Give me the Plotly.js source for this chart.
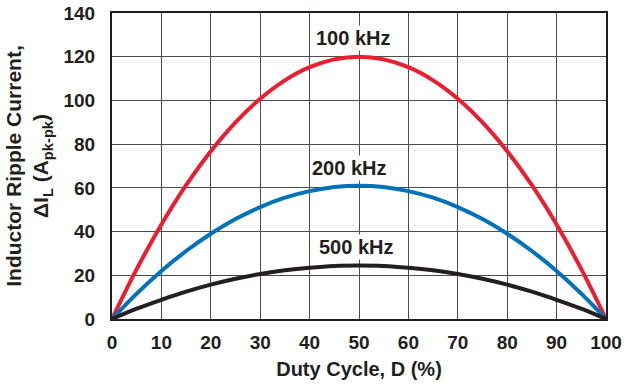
<!DOCTYPE html>
<html><head><meta charset="utf-8">
<script src="https://cdn.plot.ly/plotly-3.0.1.min.js"></script>
<style>html,body{margin:0;padding:0;background:#fff}#c{width:634px;height:390px}</style>
</head><body><div id="c"></div>
<script>
const duty = [0,5,10,15,20,25,30,35,40,45,50,55,60,65,70,75,80,85,90,95,100];
const ripple100k = [0,22.8,43.2,61.2,76.8,90,100.8,109.2,115.2,118.8,120,118.8,115.2,109.2,100.8,90,76.8,61.2,43.2,22.8,0];
const ripple200k = [0,11.6,22,31.1,39,45.7,51.2,55.5,58.5,60.4,61,60.4,58.5,55.5,51.2,45.7,39,31.1,22,11.6,0];
const ripple500k = [0,4.7,8.8,12.5,15.7,18.4,20.6,22.3,23.5,24.3,24.5,24.3,23.5,22.3,20.6,18.4,15.7,12.5,8.8,4.7,0];
const seriesNames = ['100 kHz','200 kHz','500 kHz'];
const labelX = [48.8, 48.0, 49.4];
const labelY = [128.5, 69, 33];
const xTicks = [0,10,20,30,40,50,60,70,80,90,100];
const yTicks = [0,20,40,60,80,100,120,140];

const colors = ['#ED1C2E','#0072BC','#231F20'];
const series = [ripple100k, ripple200k, ripple500k];
const font = 'Liberation Sans, Arial, sans-serif';

const traces = series.map((s,i)=>({
  x: duty, y: s, type:'scatter', mode:'lines', name: seriesNames[i],
  line:{color:colors[i], width:4, shape:'spline'}, hoverinfo:'skip'
}));

const layout = {
  width:634, height:390,
  margin:{l:112, r:28, t:13, b:71},
  paper_bgcolor:'#fff', plot_bgcolor:'#fff',
  showlegend:false,
  font:{family:font, color:'#231F20'},
  xaxis:{
    range:[0,100], tickvals:xTicks, ticks:'', ticklabelstandoff:5,
    tickfont:{size:19, weight:'bold', family:font, color:'#231F20'},
    showgrid:true, gridcolor:'#4d4d4d', gridwidth:1,
    showline:true, linecolor:'#231F20', linewidth:2, mirror:true, zeroline:false,
    title:{text:'Duty Cycle, D (%)', font:{size:20, weight:'bold', family:font, color:'#231F20'}, standoff:10}
  },
  yaxis:{
    range:[0,140], tickvals:yTicks, ticks:'', ticklabelstandoff:11,
    tickfont:{size:19, weight:'bold', family:font, color:'#231F20'},
    showgrid:true, gridcolor:'#4d4d4d', gridwidth:1,
    showline:true, linecolor:'#231F20', linewidth:2, mirror:true, zeroline:false,
    title:{text:'Inductor Ripple Current,<br>ΔI<sub>L</sub> (A<sub>pk-pk</sub>)', font:{size:21, weight:'bold', family:font, color:'#231F20'}, standoff:9}
  },
  annotations: seriesNames.map((n,i)=>({
    x:labelX[i], y:labelY[i], xref:'x', yref:'y', text:n, showarrow:false,
    font:{size:20, weight:'bold', family:font, color:'#231F20'},
    bgcolor:'#fff', borderpad:1, xanchor:'center', yanchor:'middle'
  }))
};
Plotly.newPlot('c', traces, layout, {staticPlot:true, displayModeBar:false});
</script></body></html>
